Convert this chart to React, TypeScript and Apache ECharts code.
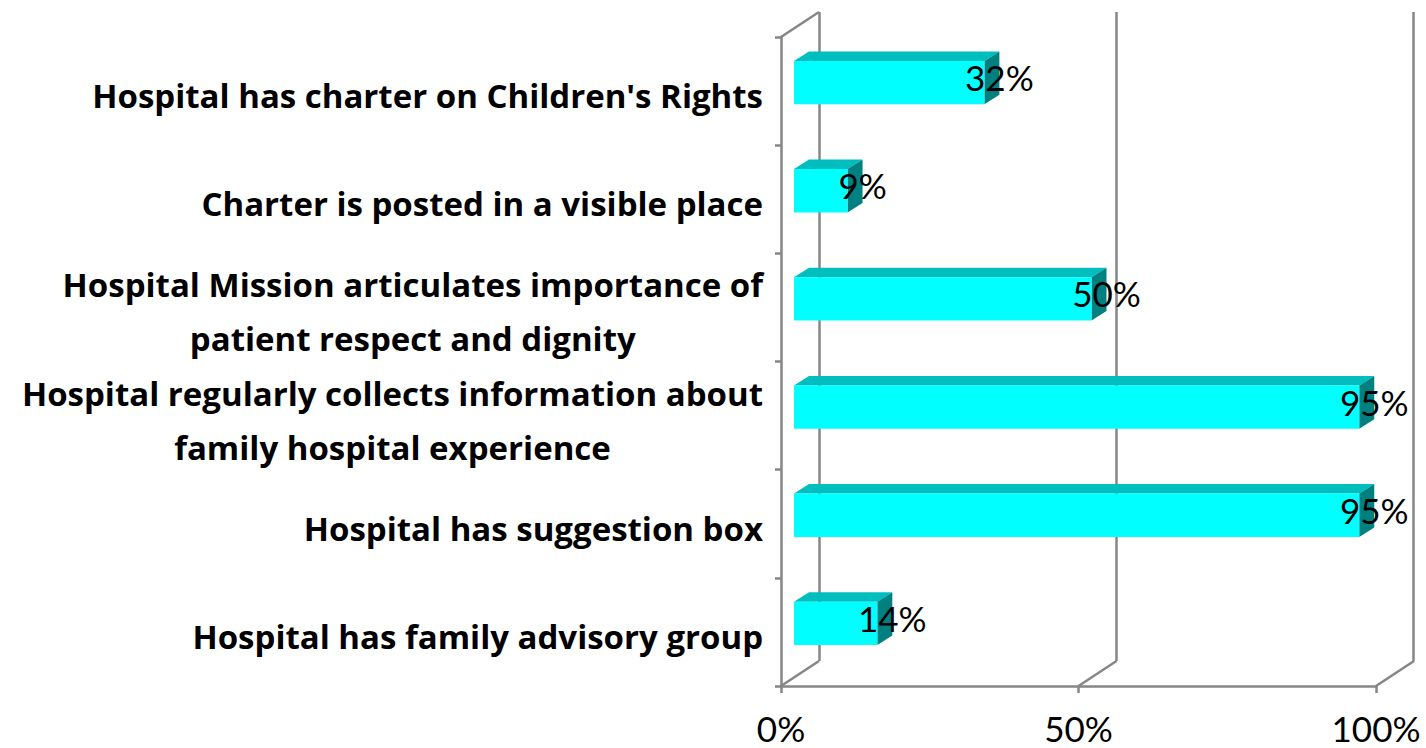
import React, { useEffect, useRef } from "react";
import * as echarts from "echarts";

const categories: string[] = [
  "Hospital has charter on Children's Rights",
  "Charter is posted in a visible place",
  "Hospital Mission articulates importance of\npatient respect and dignity",
  "Hospital regularly collects information about\nfamily hospital experience",
  "Hospital has suggestion box",
  "Hospital has family advisory group",
];
const values: number[] = [32, 9, 50, 95, 95, 14];
const xTicks: number[] = [0, 50, 100];

const FRONT = "#00FFFF";
const TOP = "#00BEBE";
const SIDE = "#008080";
const AXIS = "#868686";
const FONT = "Lato";
const CAT_FONT = "Open Sans";

export default function App() {
  const ref = useRef<HTMLDivElement>(null);
  useEffect(() => {
    if (!ref.current) return;
    const chart = echarts.init(ref.current, undefined, { renderer: "svg" });
    const DX = 38;
    const DY = -25;
    chart.setOption({
      animation: false,
      backgroundColor: "#ffffff",
      grid: [
        { left: 781, top: 37, width: 595, height: 649 },
        { left: 781 + DX, top: 37 + DY, width: 594, height: 649 },
      ],
      xAxis: [
        {
          gridIndex: 0,
          type: "value",
          min: 0,
          max: 100,
          interval: 50,
          axisLine: { show: true, lineStyle: { color: AXIS, width: 2.5 } },
          axisTick: { show: true, length: 7, lineStyle: { color: AXIS, width: 2.5 } },
          splitLine: { show: false },
          axisLabel: {
            formatter: "{value}%",
            fontFamily: FONT,
            fontSize: 35,
            color: "#000",
            margin: 24,
          },
        },
        {
          gridIndex: 1,
          type: "value",
          min: 0,
          max: 100,
          interval: 50,
          axisLine: { show: false },
          axisTick: { show: false },
          axisLabel: { show: false },
          splitLine: { show: true, lineStyle: { color: AXIS, width: 2.5 } },
        },
      ],
      yAxis: [
        {
          gridIndex: 0,
          type: "category",
          inverse: true,
          data: categories,
          axisLine: { show: true, lineStyle: { color: AXIS, width: 2.5 } },
          axisTick: { show: true, length: 6, lineStyle: { color: AXIS, width: 2.5 } },
          axisLabel: {
            margin: 18,
            fontFamily: CAT_FONT,
            fontWeight: "bold",
            fontSize: 33,
            color: "#000",
            lineHeight: 54,
            padding: [9, 0, 0, 0],
            formatter: (v: string) =>
              v
                .split("\n")
                .map((l) => `{c|${l}}`)
                .join("\n"),
            rich: {
              c: {
                align: "center",
                fontFamily: CAT_FONT,
                fontWeight: "bold",
                fontSize: 33,
                lineHeight: 54,
                color: "#000",
              },
            },
          },
        },
        {
          gridIndex: 1,
          type: "category",
          inverse: true,
          data: categories,
          show: false,
        },
      ],
      series: [
        {
          type: "custom",
          xAxisIndex: 0,
          yAxisIndex: 0,
          z: 1,
          silent: true,
          data: xTicks.map((t) => [t]),
          encode: { x: 0 },
          renderItem: (params: any, api: any) => {
            const cs = params.coordSys;
            const v = api.value(0);
            const x = cs.x + (v / 100) * cs.width;
            const yb = cs.y + cs.height;
            const children: any[] = [
              {
                type: "line",
                shape: { x1: x, y1: yb, x2: x + DX, y2: yb + DY },
                style: { stroke: AXIS, lineWidth: 2.5 },
              },
            ];
            if (v === 0) {
              children.push({
                type: "line",
                shape: { x1: cs.x, y1: cs.y, x2: cs.x + DX, y2: cs.y + DY },
                style: { stroke: AXIS, lineWidth: 2.5 },
              });
            }
            return { type: "group", children };
          },
        },
        {
          type: "custom",
          xAxisIndex: 0,
          yAxisIndex: 0,
          z: 3,
          silent: true,
          data: values.map((v, i) => [v, i]),
          encode: { x: 0, y: 1 },
          renderItem: (params: any, api: any) => {
            const v = api.value(0);
            const c = api.value(1);
            const p0 = api.coord([0, c]);
            const p1 = api.coord([v, c]);
            const band = api.size([0, 1])[1];
            const h = band * 0.2;
            const fx = 13, fy = -8.5, bx = 28, by = -18;
            const dx = bx - fx, dy = by - fy;
            const xl = p0[0] + fx;
            const xr = p1[0] + fx;
            const yt = p0[1] + fy - h;
            const yb = p0[1] + fy + h;
            return {
              type: "group",
              children: [
                {
                  type: "polygon",
                  shape: { points: [[xl, yt], [xr, yt], [xr + dx, yt + dy], [xl + dx, yt + dy]] },
                  style: { fill: TOP },
                },
                {
                  type: "polygon",
                  shape: { points: [[xr, yt], [xr + dx, yt + dy], [xr + dx, yb + dy], [xr, yb]] },
                  style: { fill: SIDE },
                },
                {
                  type: "rect",
                  shape: { x: xl, y: yt, width: xr - xl, height: yb - yt },
                  style: { fill: FRONT },
                },
                {
                  type: "text",
                  x: p1[0] + bx,
                  y: p0[1] - 14,
                  z2: 10,
                  style: {
                    text: `${v}%`,
                    fontFamily: FONT,
                    fontSize: 35,
                    fill: "#000",
                    align: "center",
                    verticalAlign: "middle",
                  },
                },
              ],
            };
          },
        },
      ],
    });
    return () => chart.dispose();
  }, []);
  return (
    <div
      ref={ref}
      style={{ position: "fixed", left: 0, top: 0, width: 1426, height: 748, background: "#fff" }}
    />
  );
}
